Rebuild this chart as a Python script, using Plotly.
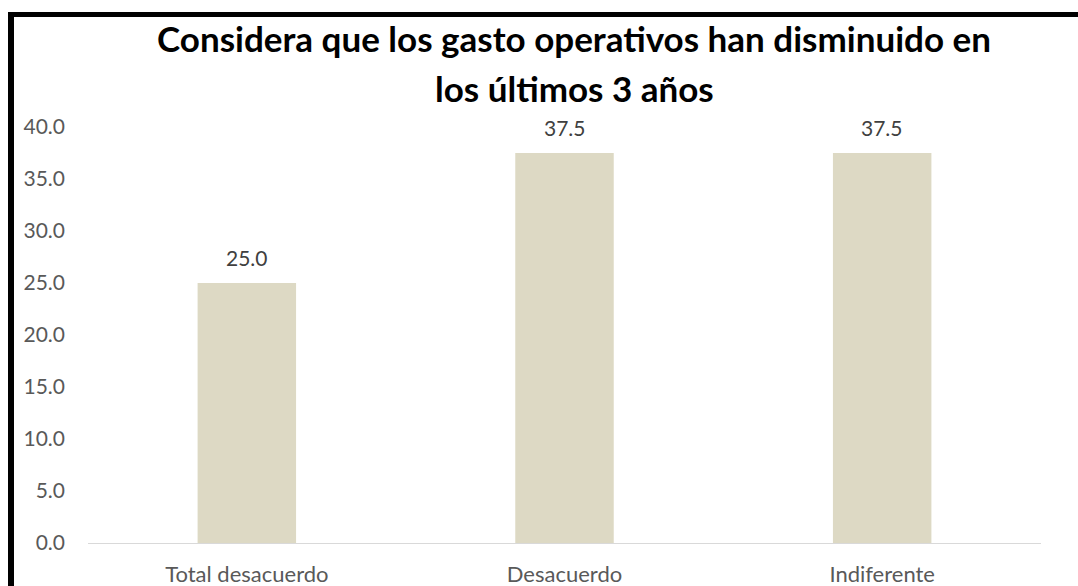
import plotly.graph_objects as go

categories = ["Total desacuerdo", "Desacuerdo", "Indiferente"]
values = [25.0, 37.5, 37.5]
title_lines = ["Considera que los gasto operativos han disminuido en", "los últimos 3 años"]
y_ticks = [0, 5, 10, 15, 20, 25, 30, 35, 40]

W, H = 1078, 586
ML, MR, MT, MB = 88, 37, 127, 43
PW, PH = W - ML - MR, H - MT - MB

def px(x):
    return (x - ML) / PW

def py(y):
    return (H - MB - y) / PH

FONT = "Lato"
BAR_COLOR = "#DDD9C4"

fig = go.Figure()
fig.add_trace(go.Bar(
    x=categories, y=values,
    marker=dict(color=BAR_COLOR, line=dict(width=0)),
    width=0.31,
    hoverinfo="skip",
))

for c, v in zip(categories, values):
    fig.add_annotation(
        x=c, y=v, xref="x", yref="y",
        text=f"{v:.1f}", showarrow=False,
        yanchor="middle", yshift=26,
        font=dict(family=FONT, size=21, color="#404040"),
    )

fig.add_annotation(
    x=px(574), y=py(38), xref="paper", yref="paper",
    text=f"<b>{title_lines[0]}</b>", showarrow=False,
    xanchor="center", yanchor="middle",
    font=dict(family=FONT, size=35, color="#000000"),
)
fig.add_annotation(
    x=px(574), y=py(88), xref="paper", yref="paper",
    text=f"<b>{title_lines[1]}</b>", showarrow=False,
    xanchor="center", yanchor="middle",
    font=dict(family=FONT, size=35, color="#000000"),
)

# frame lines (top and left)
fig.add_shape(type="line", xref="paper", yref="paper",
              x0=px(8), x1=px(W + 5), y0=py(14.5), y1=py(14.5),
              line=dict(color="#000000", width=5))
fig.add_shape(type="line", xref="paper", yref="paper",
              x0=px(11), x1=px(11), y0=py(12), y1=py(H + 5),
              line=dict(color="#000000", width=6))

fig.update_layout(
    template="none",
    width=W, height=H,
    margin=dict(l=ML, r=MR, t=MT, b=MB, pad=0),
    paper_bgcolor="white", plot_bgcolor="white",
    showlegend=False,
    xaxis=dict(
        automargin=False,
        showgrid=False, zeroline=False, showline=True,
        linecolor="#D9D9D9", linewidth=1,
        ticks="", ticklabelstandoff=12,
        tickfont=dict(family=FONT, size=22, color="#595959"),
    ),
    yaxis=dict(
        automargin=False,
        range=[0, 40], tickvals=y_ticks,
        ticktext=[f"{t:.1f}" for t in y_ticks],
        showgrid=False, zeroline=False, showline=False,
        ticks="", ticklabelstandoff=22,
        tickfont=dict(family=FONT, size=21, color="#595959"),
    ),
)

fig.write_html("out.html")
